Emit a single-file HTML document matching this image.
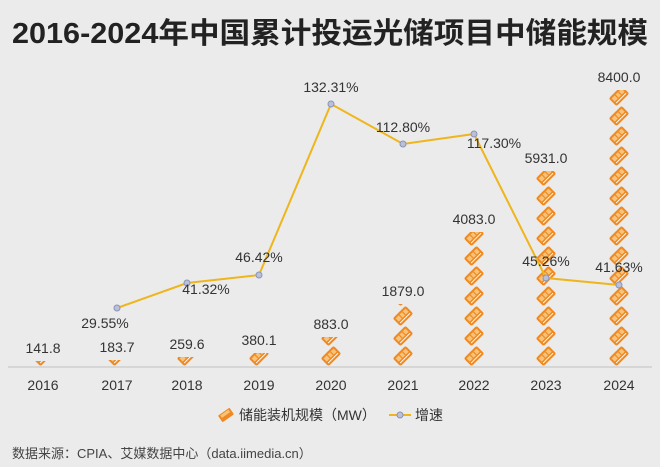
<!DOCTYPE html><html><head><meta charset="utf-8"><style>
body{margin:0;background:#ebebeb;}
svg{display:block;font-family:"Liberation Sans","Noto Sans CJK SC",sans-serif;}
</style></head><body>
<svg width="660" height="467" viewBox="0 0 660 467">
<defs>
<pattern id="ic" patternUnits="userSpaceOnUse" x="0" y="6" width="24" height="20">
<g transform="translate(12,10) rotate(-45)">
<rect x="-9" y="-5.5" width="18" height="11" rx="2" fill="#ef8a22"/>
<rect x="-7" y="-3.5" width="14" height="4.5" fill="#f8c27a"/>
<line x1="-2" y1="-3.5" x2="-2" y2="1" stroke="#ef8a22" stroke-width="1.2"/>
<line x1="2.5" y1="-3.5" x2="2.5" y2="1" stroke="#ef8a22" stroke-width="1.2"/>
<line x1="-7" y1="3" x2="7" y2="3" stroke="#fff" stroke-width="1"/>
</g>
</pattern>
</defs>
<rect width="660" height="467" fill="#ebebeb"/>
<text x="330" y="43" text-anchor="middle" font-size="29" font-weight="bold" fill="#222" textLength="636" lengthAdjust="spacingAndGlyphs">2016-2024年中国累计投运光储项目中储能规模</text>
<line x1="8" y1="367" x2="652" y2="367" stroke="#d0d0d0" stroke-width="1.5"/>
<g fill="url(#ic)">
<g transform="translate(31,0)"><rect x="0" y="361" width="24" height="5"/></g>
<g transform="translate(105,0)"><rect x="0" y="360" width="24" height="6"/></g>
<g transform="translate(175,0)"><rect x="0" y="357" width="24" height="9"/></g>
<g transform="translate(247,0)"><rect x="0" y="353" width="24" height="13"/></g>
<g transform="translate(319,0)"><rect x="0" y="337" width="24" height="29"/></g>
<g transform="translate(391,0)"><rect x="0" y="304" width="24" height="62"/></g>
<g transform="translate(462,0)"><rect x="0" y="232" width="24" height="134"/></g>
<g transform="translate(534,0)"><rect x="0" y="171" width="24" height="195"/></g>
<g transform="translate(607,0)"><rect x="0" y="90" width="24" height="276"/></g>
</g>
<polyline points="117,308 187,283 259,275 331,104 403,144 474,134 546,278 619,285" fill="none" stroke="#eeb51c" stroke-width="2"/>
<g fill="#b9c0d8" stroke="#8a93b8" stroke-width="1">
<circle cx="117" cy="308" r="3"/><circle cx="187" cy="283" r="3"/><circle cx="259" cy="275" r="3"/><circle cx="331" cy="104" r="3"/><circle cx="403" cy="144" r="3"/><circle cx="474" cy="134" r="3"/><circle cx="546" cy="278" r="3"/><circle cx="619" cy="285" r="3"/>
</g>
<g font-size="14" fill="#333" text-anchor="middle">
<text x="43" y="353">141.8</text>
<text x="117" y="352">183.7</text>
<text x="187" y="349">259.6</text>
<text x="259" y="345">380.1</text>
<text x="331" y="329">883.0</text>
<text x="403" y="296">1879.0</text>
<text x="474" y="224">4083.0</text>
<text x="546" y="163">5931.0</text>
<text x="619" y="82">8400.0</text>
<text x="105" y="328">29.55%</text>
<text x="206" y="294">41.32%</text>
<text x="259" y="262">46.42%</text>
<text x="331" y="92">132.31%</text>
<text x="403" y="132">112.80%</text>
<text x="494" y="148">117.30%</text>
<text x="546" y="266">45.26%</text>
<text x="619" y="272">41.63%</text>
</g>
<g font-size="14" fill="#333" text-anchor="middle">
<text x="43" y="390">2016</text><text x="117" y="390">2017</text><text x="187" y="390">2018</text><text x="259" y="390">2019</text><text x="331" y="390">2020</text><text x="403" y="390">2021</text><text x="474" y="390">2022</text><text x="546" y="390">2023</text><text x="619" y="390">2024</text>
</g>
<g transform="translate(226,415) rotate(-35)"><rect x="-7" y="-4" width="14" height="8" rx="1" fill="#ef8a22"/><rect x="-5" y="-3" width="10" height="3" fill="#f8c27a"/></g>
<text x="239" y="420" font-size="14" fill="#333">储能装机规模（MW）</text>
<line x1="389" y1="415" x2="411" y2="415" stroke="#eeb51c" stroke-width="2"/>
<circle cx="400" cy="415" r="3" fill="#b9c0d8" stroke="#8a93b8"/>
<text x="415" y="420" font-size="14" fill="#333">增速</text>
<text x="12" y="458" font-size="13" fill="#444">数据来源：CPIA、艾媒数据中心（data.iimedia.cn）</text>
</svg>
</body></html>
